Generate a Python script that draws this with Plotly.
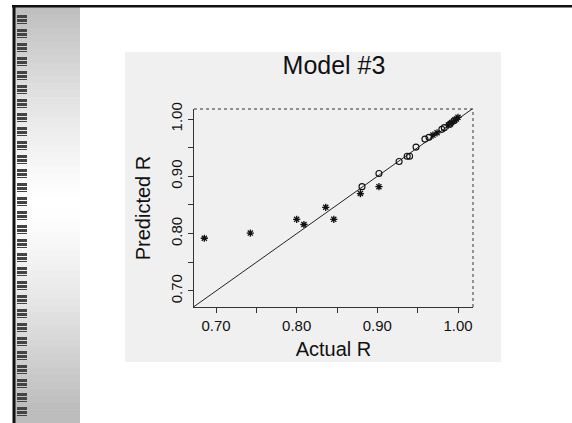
import plotly.graph_objects as go

# ---- data ----
actual_star = [0.6855, 0.7425, 0.800, 0.809, 0.836, 0.846, 0.879, 0.902,
               0.969, 0.974, 0.988, 0.992, 0.996, 1.000, 0.998]
pred_star = [0.792, 0.801, 0.825, 0.816, 0.846, 0.825, 0.870, 0.882,
             0.972, 0.976, 0.9895, 0.994, 0.998, 1.003, 1.000]
actual_circ = [0.881, 0.902, 0.927, 0.937, 0.940, 0.948, 0.959, 0.964,
               0.980, 0.983, 0.990, 0.995]
pred_circ = [0.882, 0.905, 0.926, 0.935, 0.935, 0.951, 0.965, 0.968,
             0.982, 0.985, 0.991, 0.997]
x_range = [0.6727, 1.0186]
y_range = [0.672, 1.0175]
tick_vals = [0.70, 0.75, 0.80, 0.85, 0.90, 0.95, 1.00]
tick_text = ["0.70", "", "0.80", "", "0.90", "", "1.00"]

W, H = 572, 423
L, R, T, B = 194, 473, 109, 307


def px(x):
    return (x - L) / (R - L)


def py(y):
    return (B - y) / (B - T)


FONT = "Liberation Sans, Arial, sans-serif"

fig = go.Figure()

# diagonal y = x reference line spanning the plot
diag = [max(x_range[0], y_range[0]) - 0.01, min(x_range[1], y_range[1]) + 0.01]
fig.add_trace(go.Scatter(x=diag, y=diag, mode="lines",
                         line=dict(color="#222222", width=1), hoverinfo="skip"))
fig.add_trace(go.Scatter(x=actual_circ, y=pred_circ, mode="markers",
                         marker=dict(symbol="circle-open", size=6, color="#111111",
                                     line=dict(width=1.1))))
fig.add_trace(go.Scatter(x=actual_star, y=pred_star, mode="markers",
                         marker=dict(symbol="asterisk-open", size=6, color="#111111",
                                     line=dict(width=1.3, color="#111111"))))

shapes = []
# grey panel behind the plot
shapes.append(dict(type="rect", xref="paper", yref="paper", layer="below",
                   x0=px(125), x1=px(501), y0=py(362), y1=py(52),
                   fillcolor="#f0f0f0", line=dict(width=0)))
# left gradient strip
n = 60
top, bot = 7, 423
for i in range(n):
    y0 = top + (bot - top) * i / n
    y1 = top + (bot - top) * (i + 1) / n
    mid = (y0 + y1) / 2
    d = min(abs(mid - 205) / 200.0, 1.0)
    c = int(round(255 - 66 * d ** 1.3))
    shapes.append(dict(type="rect", xref="paper", yref="paper", layer="below",
                       x0=px(15), x1=px(80), y0=py(y1 + 0.5), y1=py(y0),
                       fillcolor=f"rgb({c},{c},{c})", line=dict(width=0)))
# barcode stripes
for k in range(29):
    ys = 15 + 14 * k
    for (a, h) in [(0, 3), (4, 3), (8, 1)]:
        shapes.append(dict(type="rect", xref="paper", yref="paper",
                           x0=px(17), x1=px(27), y0=py(ys + a + h), y1=py(ys + a),
                           fillcolor="#444444", line=dict(width=0)))
# black frame lines of the slide
shapes.append(dict(type="rect", xref="paper", yref="paper",
                   x0=px(12), x1=px(572), y0=py(7.5), y1=py(5),
                   fillcolor="#111111", line=dict(width=0)))
shapes.append(dict(type="rect", xref="paper", yref="paper",
                   x0=px(12.5), x1=px(15.5), y0=py(423), y1=py(5),
                   fillcolor="#111111", line=dict(width=0)))
# dotted top and right edges of the plot box
shapes.append(dict(type="line", xref="paper", yref="paper", x0=0, x1=1, y0=1, y1=1,
                   line=dict(color="#333333", width=1, dash="dot")))
shapes.append(dict(type="line", xref="paper", yref="paper", x0=1, x1=1, y0=0, y1=1,
                   line=dict(color="#333333", width=1, dash="dot")))

axis_common = dict(tickmode="array", tickvals=tick_vals, ticktext=tick_text,
                   ticks="outside", ticklen=5, tickwidth=1, tickcolor="#333333",
                   showline=True, linecolor="#333333", linewidth=1, mirror=False,
                   showgrid=False, zeroline=False,
                   tickfont=dict(family=FONT, size=15, color="#111111"))

fig.update_layout(
    width=W, height=H,
    margin=dict(l=L, r=W - R, t=T, b=H - B, pad=0),
    paper_bgcolor="white", plot_bgcolor="#f0f0f0",
    showlegend=False,
    title=dict(text="Model #3", x=px(334), xref="paper", xanchor="center",
               y=1 - 65 / H, yref="container", yanchor="middle",
               font=dict(family=FONT, size=25, color="#111111")),
    shapes=shapes,
)
fig.update_xaxes(**axis_common, range=x_range,
                 title=dict(text="Actual R", standoff=8,
                            font=dict(family=FONT, size=20, color="#111111")))
fig.update_yaxes(**axis_common, range=y_range, tickangle=-90,
                 title=dict(text="Predicted R", standoff=12,
                            font=dict(family=FONT, size=20, color="#111111")))

fig.write_html("out.html", config={"displayModeBar": False},
               post_script="document.body.style.margin='0';document.body.style.overflow='hidden';")
